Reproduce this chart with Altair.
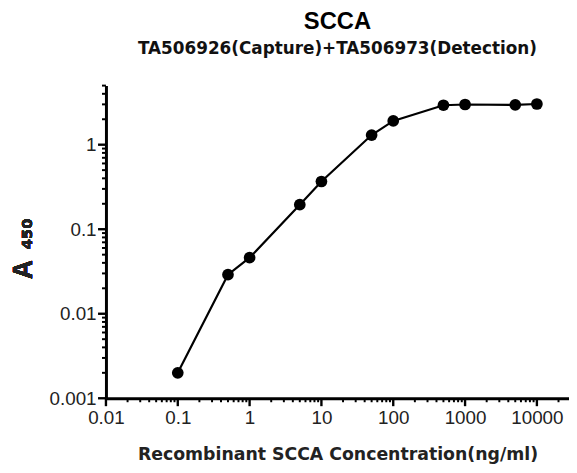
import altair as alt
import pandas as pd

# Data
conc = [0.1, 0.5, 1, 5, 10, 50, 100, 500, 1000, 5000, 10000]
a450 = [0.002, 0.029, 0.046, 0.195, 0.367, 1.30, 1.91, 2.93, 2.99, 2.96, 3.03]

x_decades = [0.01, 0.1, 1, 10, 100, 1000, 10000]
y_decades = [0.001, 0.01, 0.1, 1]
x_max = 28000
y_max = 5

x_minor = [d * m for d in x_decades for m in range(2, 10) if d * m <= x_max]
y_minor = [d * m for d in y_decades for m in range(2, 10) if d * m <= y_max]

title_text = "SCCA"
subtitle_text = "TA506926(Capture)+TA506973(Detection)"
x_title = "Recombinant SCCA Concentration(ng/ml)"
y_title_main = "A"
y_title_sub = "450"

PLOT_W = 468
PLOT_H = 316
MAJOR_LEN = 8
MINOR_LEN = 4

df = pd.DataFrame({"conc": conc, "a450": a450})
xt_major = pd.DataFrame({"conc": x_decades})
xt_minor = pd.DataFrame({"conc": x_minor})
yt_major = pd.DataFrame({"a450": y_decades})
yt_minor = pd.DataFrame({"a450": y_minor})

lab = "format(datum.value, '~g')"

axis_style = dict(
    labelExpr=lab,
    ticks=False,
    domainColor="black",
    domainWidth=3,
    labelFont="Liberation Sans",
    labelFontSize=19,
    labelColor="#222222",
    labelOverlap=False,
    labelFlush=False,
    labelBound=False,
    labelPadding=MAJOR_LEN + 2,
    grid=False,
)

xs = alt.Scale(type="log", domain=[0.01, x_max])
ys = alt.Scale(type="log", domain=[0.001, y_max])

x_axis = alt.Axis(
    values=x_decades,
    title=x_title,
    titleFont="DejaVu Sans",
    titleFontSize=17.5,
    titleFontWeight="bold",
    titleColor="#222222",
    titlePadding=19,
    **axis_style,
)
y_axis = alt.Axis(values=y_decades, title="", **axis_style)

line = alt.Chart(df).mark_line(color="black", strokeWidth=2.2).encode(
    x=alt.X("conc:Q", scale=xs, axis=x_axis),
    y=alt.Y("a450:Q", scale=ys, axis=y_axis),
)
pts = alt.Chart(df).mark_circle(size=140, color="black", opacity=1).encode(
    x=alt.X("conc:Q", scale=xs),
    y=alt.Y("a450:Q", scale=ys),
)

TICK_COLOR = "black"

# axis tick marks placed through the scales
def xticks(data, length, width):
    return alt.Chart(data).mark_rule(color=TICK_COLOR, strokeWidth=width).encode(
        x=alt.X("conc:Q", scale=xs),
        y=alt.value(PLOT_H),
        y2=alt.value(PLOT_H + length),
    )

def yticks(data, length, width):
    return alt.Chart(data).mark_rule(color=TICK_COLOR, strokeWidth=width).encode(
        y=alt.Y("a450:Q", scale=ys),
        x=alt.value(0),
        x2=alt.value(-length),
    )

ytitle_a = alt.Chart(df).mark_text(
    text=y_title_main,
    font="Liberation Sans",
    fontSize=27,
    fontWeight="bold",
    color="#222222",
    angle=270,
    align="center",
    baseline="alphabetic",
).encode(x=alt.value(-75), y=alt.value(186))

ytitle_sub = alt.Chart(df).mark_text(
    text=y_title_sub,
    font="DejaVu Sans",
    fontSize=15,
    fontWeight="bold",
    color="#222222",
    angle=270,
    align="center",
    baseline="alphabetic",
).encode(x=alt.value(-75), y=alt.value(150))

chart = (
    alt.layer(
        line,
        pts,
        xticks(xt_major, MAJOR_LEN, 2.4),
        xticks(xt_minor, MINOR_LEN, 2),
        yticks(yt_major, MAJOR_LEN, 2.4),
        yticks(yt_minor, MINOR_LEN, 2),
        ytitle_a,
        ytitle_sub,
    )
    .properties(
        width=PLOT_W,
        height=PLOT_H,
        title=alt.TitleParams(
            text=title_text,
            subtitle=subtitle_text,
            font="Liberation Sans",
            fontSize=24,
            fontWeight="bold",
            color="black",
            subtitleFont="DejaVu Sans",
            subtitleFontSize=17,
            subtitleFontWeight="bold",
            subtitleColor="#111111",
            subtitlePadding=7,
            anchor="middle",
            offset=28,
        ),
        autosize=alt.AutoSizeParams(type="none"),
        padding={"left": 99, "top": 76, "right": 0, "bottom": 65},
    )
    .configure_view(stroke=None)
)

chart.save("out.html", embed_options={"renderer": "svg", "actions": False})
